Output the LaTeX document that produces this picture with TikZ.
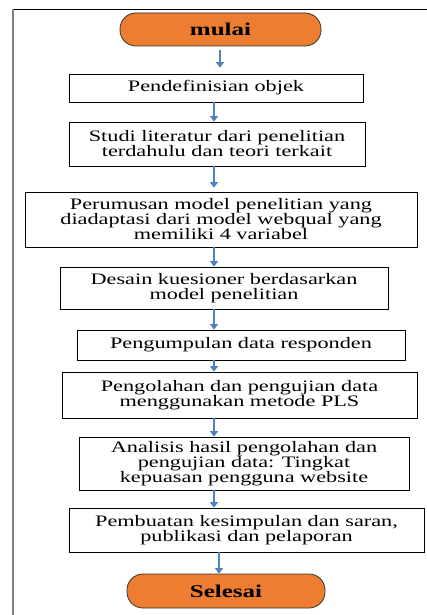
\documentclass[tikz,border=0pt]{standalone}
\usepackage{fontspec}
\setmainfont{Liberation Serif}[FakeStretch=1.39]
\usetikzlibrary{arrows.meta}
\definecolor{flowblue}{HTML}{4F81BD}
\definecolor{flowamber}{HTML}{ED7D31}
\begin{document}
\begin{tikzpicture}[x=1pt, y=1pt, >={Triangle[width=8pt,length=5.5pt]},
  stepbox/.style={draw, line width=0.8pt, align=center, inner sep=0pt, font=\fontsize{16}{15}\selectfont},
  endbox/.style={draw=black!80, line width=0.8pt, fill=flowamber, rounded corners=16pt, inner sep=0pt, font=\fontsize{18}{18}\selectfont\bfseries},
  flow/.style={->, flowblue, line width=1.4pt}]
\useasboundingbox (0,0) rectangle (427,-615);
% frame
\draw[black, line width=0.9pt] (13,-9) -- (427,-9);
\draw[black!50, line width=1.8pt] (13,-9) -- (13,-615);
% steps
\node[endbox, minimum width=201pt, minimum height=33pt] (start) at (220.5,-29.5) {mulai};
\node[stepbox, minimum width=294pt, minimum height=28pt] (objek) at (216,-88) {Pendefinisian objek};
\node[stepbox, minimum width=296pt, minimum height=44pt] (studi) at (217,-144) {Studi literatur dari penelitian\\terdahulu dan teori terkait};
\node[stepbox, minimum width=392pt, minimum height=55pt] (model) at (221,-219.5) {Perumusan model penelitian yang\\diadaptasi dari model webqual yang\\memiliki 4 variabel};
\node[stepbox, minimum width=328pt, minimum height=42pt] (kuesioner) at (224,-288) {Desain kuesioner berdasarkan\\model penelitian};
\node[stepbox, minimum width=328pt, minimum height=30pt] (data) at (241,-345) {Pengumpulan data responden};
\node[stepbox, minimum width=355pt, minimum height=46pt] (pls) at (239.5,-395) {Pengolahan dan pengujian data\\menggunakan metode PLS};
\node[stepbox, minimum width=330pt, minimum height=53pt] (analisis) at (244,-463.5) {Analisis hasil pengolahan dan\\pengujian data: Tingkat\\kepuasan pengguna website};
\node[stepbox, minimum width=355pt, minimum height=44pt] (laporan) at (246.5,-530) {Pembuatan kesimpulan dan saran,\\publikasi dan pelaporan};
\node[endbox, minimum width=198pt, minimum height=34pt] (finish) at (226,-591) {Selesai};
% arrows
\coordinate (axis) at (214,0);
\coordinate (axisa) at (220,0);
\coordinate (axisb) at (219,0);
\draw[flow, shorten <=4pt, shorten >=6pt] (start.south -| axisa) -- (objek.north -| axisa);
\draw[flow] (objek.south -| axis) -- (studi.north -| axis);
\draw[flow, shorten <=0pt, shorten >=4pt] (studi.south -| axis) -- (model.north -| axis);
\draw[flow] (model.south -| axis) -- (kuesioner.north -| axis);
\draw[flow] (kuesioner.south -| axis) -- (data.north -| axis);
\draw[flow] (data.south -| axis) -- (pls.north -| axis);
\draw[flow] (pls.south -| axis) -- (analisis.north -| axis);
\draw[flow] (analisis.south -| axis) -- (laporan.north -| axis);
\draw[flow] (laporan.south -| axisb) -- (finish.north -| axisb);
\end{tikzpicture}
\end{document}
